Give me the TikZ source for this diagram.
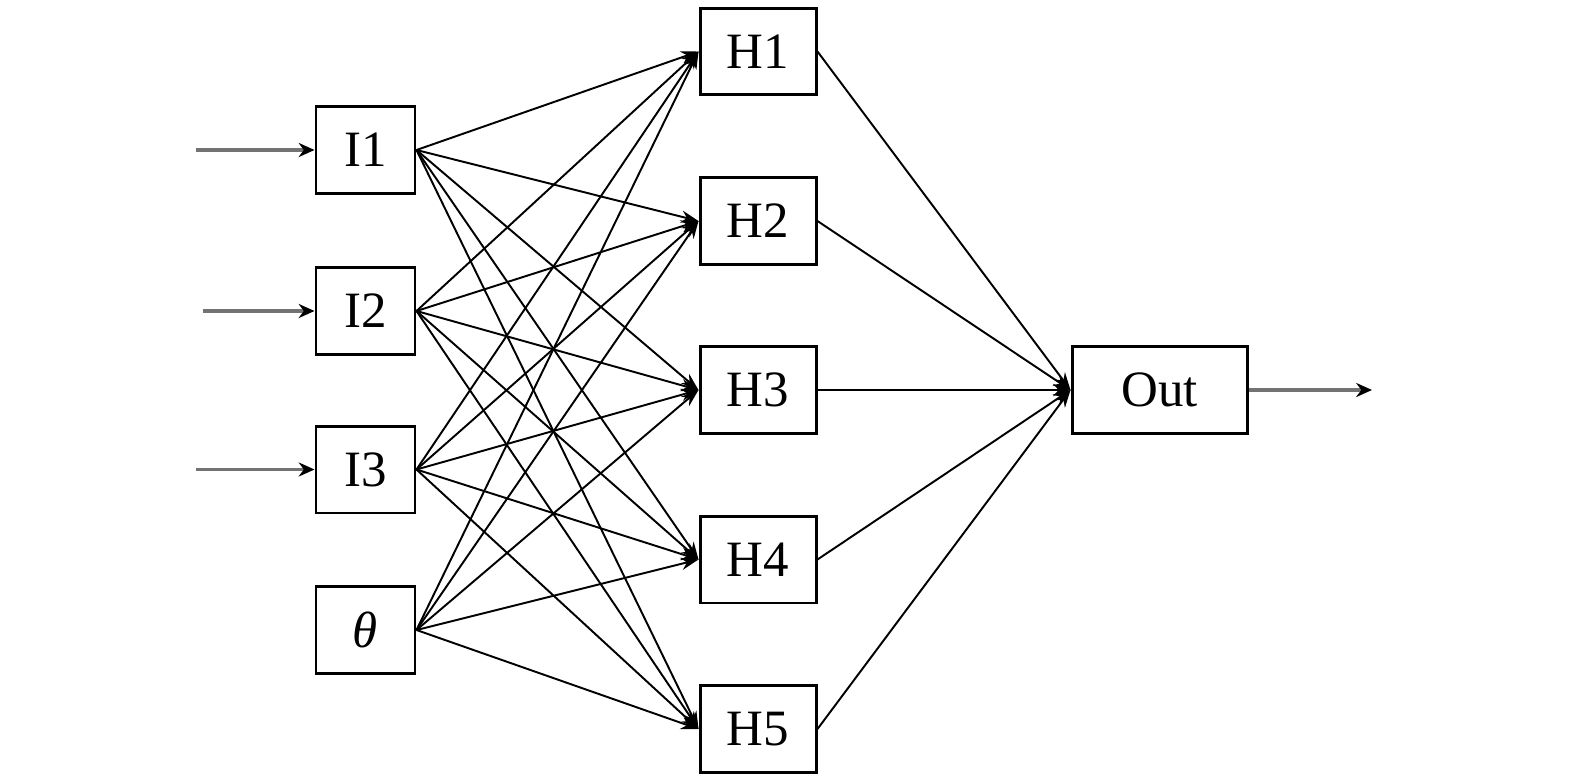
\documentclass[tikz,border=0pt]{standalone}
\usepackage{fontspec}
\setmainfont{Liberation Serif}
\usetikzlibrary{arrows.meta}
\begin{document}
\begin{tikzpicture}[x=0.02cm,y=-0.02cm,
  box/.style={draw=black,line width=1.7pt,minimum width=#1*0.02cm,minimum height=1.74cm,inner sep=0pt,font=\fontsize{29}{34}\selectfont},
  box/.default=99,
  conn/.style={line width=1.1pt,-{Stealth[length=10pt,width=7pt]}},
  feed/.style={line width=2pt,draw=black!55,-{Stealth[length=9pt,width=8pt,color=black]}}]
\useasboundingbox (0,0) rectangle (1575,781);
% input layer
\node[box] (i1) at (365.5,150) {I1};
\node[box] (i2) at (365.5,311) {I2};
\node[box] (i3) at (365.5,469.5) {I3};
\node[box] (th) at (365.5,630) {\itshape θ};
% hidden layer
\node[box=116] (h1) at (758,51.5) {H1};
\node[box=116] (h2) at (758,221) {H2};
\node[box=116] (h3) at (758,390) {H3};
\node[box=116] (h4) at (758,559.5) {H4};
\node[box=116] (h5) at (758,729) {H5};
% output
\node[box=175] (out) at (1159.5,390) {Out};
% external arrows
\coordinate (a1) at (196,150);
\coordinate (a2) at (203,311);
\coordinate (a3) at (196,469.5);
\coordinate (o) at (1372,390);
\draw[feed] (a1) -- (i1.west);
\draw[feed] (a2) -- (i2.west);
\draw[feed] (a3) -- (i3.west);
\draw[feed] (out.east) -- (o);
% input -> hidden
\foreach \s in {i1,i2,i3,th}
  \foreach \t in {h1,h2,h3,h4,h5}
    \draw[conn] (\s.east) -- (\t.west);
% hidden -> output
\foreach \t in {h1,h2,h3,h4,h5}
  \draw[conn] (\t.east) -- (out.west);
\end{tikzpicture}
\end{document}
